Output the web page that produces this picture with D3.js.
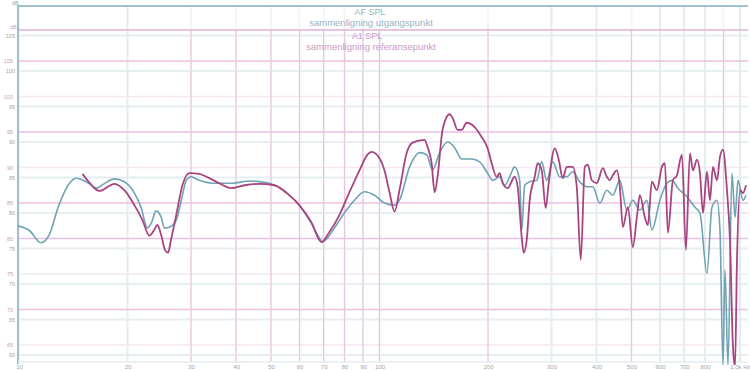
<!DOCTYPE html>
<html>
<head>
<meta charset="utf-8">
<script src="https://cdn.jsdelivr.net/npm/d3@7/dist/d3.min.js"></script>
<style>
  body { margin: 0; background: #fff; }
  svg { display: block; font-family: "Liberation Sans", Arial, sans-serif; }
</style>
</head>
<body>
<svg id="chart" width="750" height="371"></svg>
<script>
// x-akse, Hz
var freqTicks  = [10, 20, 30, 40, 50, 60, 70, 80, 90, 100, 200, 300, 400, 500, 600, 700, 800, 900, 1000];
var freqLabels = ["10", "20", "30", "40", "50", "60", "70", "80", "90", "100", "200", "300", "400", "500", "600", "700", "800", "", "1.0k Hz"];
var gridBlueFreq = [20, 300, 400, 600, 700, 800, 1000];
var gridPinkFreq = [30, 40, 50, 60, 70, 80, 90, 100, 200, 500, 900];

// y-akse, dB (to grafer lagt oppå hverandre)
var blueDbTicks = [105, 100, 95, 90, 85, 80, 75, 70, 65, 60];
var pinkDbTicks = [105, 100, 95, 90, 85, 80, 75, 70, 65];
var pinkDbStrong = [105, 95, 85, 80, 70];

// utgangspunkt (blå)
var blueFreq = [9.9, 10.7, 11.5, 12.1, 12.9, 13.8, 14.4, 15.6, 16.4, 17.2, 18.4, 19.6, 20.9, 21.8, 22.7, 23.3, 24.0, 24.8, 25.3, 26.1,
  27.3, 28.4, 29.1, 30.0, 31.6, 34.4, 39.1, 43.5, 49.5, 56.2, 59.9, 63.9, 68.1, 69.4, 75.0, 79.9, 85.2, 90.9, 96.9, 103.2,
  110.1, 113.6, 121.2, 129.2, 135.1, 140.4, 146.8, 154.5, 161.6, 169.0, 180.1, 189.6, 199.5, 206.0, 215.4, 222.5, 229.7, 237.1, 244.8, 248.0,
  252.8, 261.0, 273.0, 281.8, 291.0, 302.4, 316.2, 330.7, 343.6, 359.4, 375.8, 390.5, 408.4, 427.1, 443.8, 464.2, 485.4, 504.4, 527.5, 551.7,
  569.6, 599.5, 626.9, 647.3, 672.6, 712.5, 749.9, 774.3, 809.6, 836.0, 863.2, 879.9, 897.0, 908.5, 926.1, 950.1, 968.6, 987.3, 1019.4, 1039.1];
var blueDb = [78.2, 77.5, 75.8, 76.8, 81.1, 84.2, 84.9, 84.2, 83.5, 84.1, 84.8, 84.4, 82.8, 80.8, 77.9, 78.6, 80.3, 79.4, 77.9, 78.0,
  79.0, 82.5, 84.6, 85.1, 84.6, 84.2, 84.2, 84.5, 84.2, 82.5, 81.1, 79.0, 76.5, 75.9, 77.9, 80.0, 81.8, 83.0, 82.5, 81.4,
  81.1, 81.8, 86.5, 88.5, 88.2, 86.1, 88.5, 90.0, 89.2, 87.6, 87.6, 87.2, 85.6, 84.6, 85.1, 83.9, 85.1, 86.5, 84.6, 77.6,
  83.9, 84.4, 84.6, 87.2, 84.6, 87.2, 85.1, 85.1, 85.8, 84.4, 83.7, 83.7, 81.4, 83.2, 82.5, 84.6, 80.4, 81.8, 80.4, 81.8,
  77.6, 81.8, 84.2, 84.6, 83.5, 82.3, 80.8, 80.0, 71.5, 80.8, 81.8, 77.6, 58.6, 72.0, 58.6, 85.6, 79.4, 84.6, 81.8, 82.5];

// etter justering (rosa)
var pinkFreq = [15.0, 15.6, 16.7, 17.8, 18.4, 19.6, 20.9, 22.0, 23.0, 23.7, 24.2, 24.8, 25.4, 25.9, 26.4, 27.3, 28.4, 29.7, 31.6, 33.7,
  35.9, 38.8, 42.2, 46.4, 51.1, 56.2, 59.9, 64.7, 69.0, 72.6, 77.4, 82.5, 88.0, 92.6, 95.0, 100.0, 103.2, 106.6, 110.1, 113.6,
  118.9, 123.5, 133.4, 135.9, 139.5, 142.2, 144.9, 149.6, 156.5, 159.5, 164.7, 169.0, 174.5, 183.6, 192.0, 199.5, 204.7, 211.3, 215.4, 219.6,
  226.8, 237.1, 241.7, 248.0, 251.2, 256.1, 261.0, 269.5, 274.7, 281.8, 289.1, 294.7, 306.2, 314.2, 322.4, 330.7, 343.6, 352.5, 361.7, 371.1,
  378.3, 388.1, 400.7, 416.3, 427.1, 435.4, 443.8, 455.3, 464.2, 473.2, 488.5, 504.4, 517.5, 527.5, 544.6, 555.2, 569.6, 588.1, 607.2, 619.0,
  631.0, 651.5, 668.3, 690.1, 707.9, 726.3, 740.4, 759.5, 774.3, 789.3, 809.6, 825.4, 841.4, 863.2, 879.9, 897.0, 920.2, 938.0, 956.2, 968.6,
  981.0, 1000.0, 1019.4, 1039.1];
var pinkDb = [89.1, 88.0, 86.7, 87.4, 87.7, 86.8, 84.7, 82.6, 80.4, 81.2, 81.9, 80.5, 78.4, 78.0, 79.8, 83.3, 87.5, 89.2, 89.1, 88.5,
  87.8, 87.1, 87.5, 87.7, 87.5, 86.1, 84.7, 82.3, 79.5, 80.9, 83.3, 86.5, 89.6, 91.8, 92.2, 91.3, 89.6, 86.5, 83.8, 86.8,
  92.0, 93.5, 93.9, 92.9, 90.6, 86.5, 88.7, 95.3, 97.5, 97.0, 95.3, 95.3, 96.3, 95.7, 94.3, 92.7, 90.6, 88.7, 89.2, 87.8,
  87.1, 88.7, 87.3, 80.2, 78.0, 79.8, 85.4, 88.7, 90.6, 89.6, 84.3, 87.8, 92.7, 91.1, 88.5, 90.1, 90.1, 87.3, 77.0, 90.1,
  90.4, 88.2, 87.8, 89.9, 88.7, 88.2, 88.9, 89.6, 87.3, 81.6, 84.4, 78.8, 83.0, 86.1, 83.0, 81.9, 88.0, 86.8, 90.1, 90.6,
  80.8, 88.2, 88.9, 91.8, 78.4, 92.0, 89.6, 91.1, 89.2, 83.6, 89.4, 85.4, 90.1, 88.2, 91.5, 92.5, 86.8, 79.8, 64.7, 61.9,
  77.0, 86.8, 86.4, 87.5];

var svg = d3.select("#chart");

var x = d3.scaleLog().domain([10, 1000]).range([19, 740]);
var yBlue = d3.scaleLinear().domain([60, 100]).range([355, 71]);
var yPink = d3.scaleLinear().domain([65, 105]).range([345, 61]);

var plotLeft = 18, plotRight = 748, plotTop = 6, plotBottom = 362;

// klipp
svg.append("defs").append("clipPath").attr("id", "plot")
  .append("rect").attr("x", plotLeft).attr("y", plotTop)
  .attr("width", plotRight - plotLeft).attr("height", 365 - plotTop);

var grid = svg.append("g");

// blått rutenett
grid.selectAll(".hb").data(blueDbTicks).enter().append("line")
  .attr("x1", plotLeft).attr("x2", plotRight)
  .attr("y1", function(d) { return yBlue(d); }).attr("y2", function(d) { return yBlue(d); })
  .attr("stroke", "#e6eef1").attr("stroke-width", 2);
grid.selectAll(".vb").data(freqTicks).enter().append("line")
  .attr("x1", function(d) { return x(d); }).attr("x2", function(d) { return x(d); })
  .attr("y1", plotTop).attr("y2", plotBottom)
  .attr("stroke", function(d) { return gridBlueFreq.indexOf(d) >= 0 ? "#e3ecef" : "#f2f6f7"; })
  .attr("stroke-width", 2);

// rosa rutenett
grid.selectAll(".hp").data(pinkDbTicks).enter().append("line")
  .attr("x1", plotLeft).attr("x2", plotRight)
  .attr("y1", function(d) { return yPink(d); }).attr("y2", function(d) { return yPink(d); })
  .attr("stroke", function(d) { return pinkDbStrong.indexOf(d) >= 0 ? "#e8c0e0" : "#f5e8f2"; })
  .attr("stroke-width", 1.3);
grid.selectAll(".vp").data(gridPinkFreq).enter().append("line")
  .attr("x1", function(d) { return x(d); }).attr("x2", function(d) { return x(d); })
  .attr("y1", 30).attr("y2", plotBottom)
  .attr("stroke", "#e8c6e2").attr("stroke-width", 1.2);

// rammer
grid.append("line").attr("x1", plotLeft - 1).attr("x2", plotRight).attr("y1", plotTop).attr("y2", plotTop)
  .attr("stroke", "#a3bfd2").attr("stroke-width", 1.8);
grid.append("line").attr("x1", plotLeft - 1).attr("x2", plotRight).attr("y1", 30).attr("y2", 30)
  .attr("stroke", "#dfb2d8").attr("stroke-width", 1.5);
grid.append("line").attr("x1", plotLeft).attr("x2", plotLeft).attr("y1", plotTop).attr("y2", 364)
  .attr("stroke", "#a3bdcf").attr("stroke-width", 2);
grid.append("line").attr("x1", plotLeft).attr("x2", plotRight).attr("y1", plotBottom).attr("y2", plotBottom)
  .attr("stroke", "#e6eef1").attr("stroke-width", 1.5);

// akseetiketter
var xAxis = svg.append("g").attr("transform", "translate(0,363)")
  .call(d3.axisBottom(x).tickValues(freqTicks).tickSize(0).tickPadding(2)
    .tickFormat(function(d, i) { return freqLabels[i]; }));
xAxis.select(".domain").remove();
xAxis.selectAll("text").attr("font-size", 6).attr("fill", "#9aa6b2")
  .attr("font-family", "Liberation Sans, Arial, sans-serif");
xAxis.selectAll("text").filter(function(d) { return d === 1000; }).attr("text-anchor", "end").attr("dx", 10);

var yAxisB = svg.append("g").attr("transform", "translate(16,0)")
  .call(d3.axisLeft(yBlue).tickValues(blueDbTicks).tickSize(0).tickPadding(1));
yAxisB.select(".domain").remove();
yAxisB.selectAll("text").attr("font-size", 5.5).attr("fill", "#9aa6b2")
  .attr("font-family", "Liberation Sans, Arial, sans-serif");

var yAxisP = svg.append("g").attr("transform", "translate(14,0)")
  .call(d3.axisLeft(yPink).tickValues(pinkDbTicks).tickSize(0).tickPadding(1));
yAxisP.select(".domain").remove();
yAxisP.selectAll("text").attr("font-size", 5.5).attr("fill", "#c99bc1")
  .attr("font-family", "Liberation Sans, Arial, sans-serif");

svg.append("text").attr("x", 12).attr("y", 5).attr("font-size", 5.5).attr("fill", "#9aa6b2").text("dB");
svg.append("text").attr("x", 10).attr("y", 29).attr("font-size", 5.5).attr("fill", "#c99bc1").text("dB");

// titler
svg.append("text").attr("x", 370).attr("y", 15).attr("text-anchor", "middle")
  .attr("font-size", 9).attr("fill", "#9bb2c2").text("AF SPL");
svg.append("text").attr("x", 371).attr("y", 26).attr("text-anchor", "middle")
  .attr("font-size", 9.5).attr("fill", "#9bb2c2").text("sammenligning utgangspunkt");
svg.append("text").attr("x", 367).attr("y", 39).attr("text-anchor", "middle")
  .attr("font-size", 9).attr("fill", "#cc9ac4").text("A1 SPL");
svg.append("text").attr("x", 371).attr("y", 50).attr("text-anchor", "middle")
  .attr("font-size", 9.5).attr("fill", "#cc9ac4").text("sammenligning referansepunkt");

// kurver
var lineBlue = d3.line()
  .x(function(d) { return x(d.f); })
  .y(function(d) { return yBlue(d.v); })
  .curve(d3.curveMonotoneX);
var linePink = d3.line()
  .x(function(d) { return x(d.f); })
  .y(function(d) { return yPink(d.v); })
  .curve(d3.curveMonotoneX);

var blueData = blueFreq.map(function(f, i) { return {f: f, v: blueDb[i]}; });
var pinkData = pinkFreq.map(function(f, i) { return {f: f, v: pinkDb[i]}; });

var curves = svg.append("g").attr("clip-path", "url(#plot)");
curves.append("path").datum(blueData).attr("d", lineBlue)
  .attr("fill", "none").attr("stroke", "#6fa3b4").attr("stroke-width", 1.6);
curves.append("path").datum(pinkData).attr("d", linePink)
  .attr("fill", "none").attr("stroke", "#a8447f").attr("stroke-width", 1.8);
</script>
</body>
</html>
